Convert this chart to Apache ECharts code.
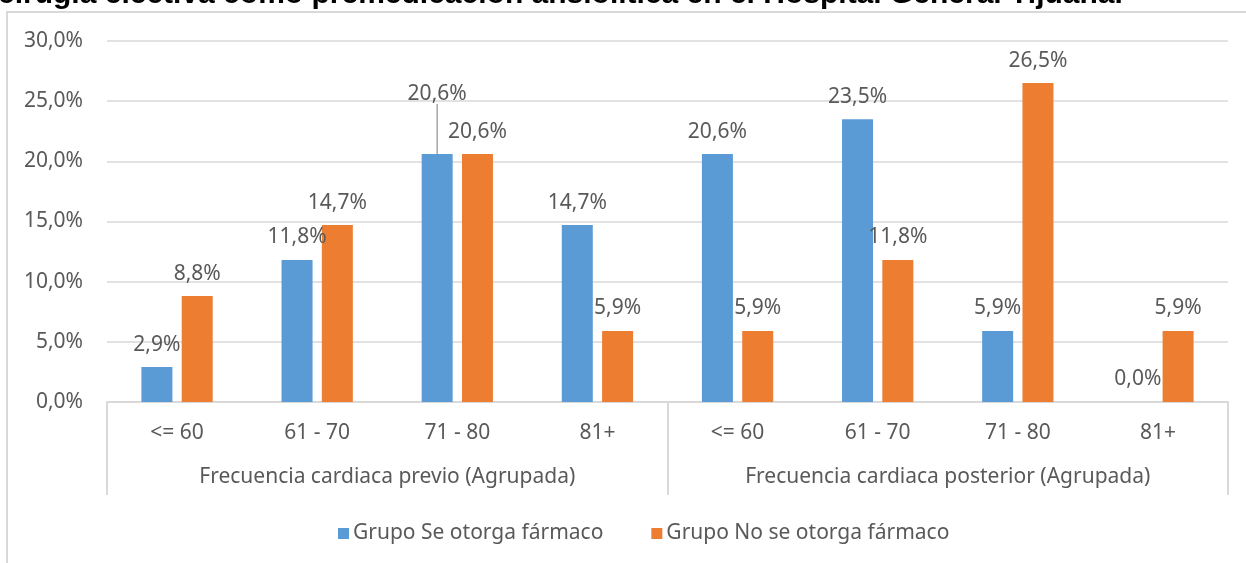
<!DOCTYPE html>
<html>
<head>
<meta charset="utf-8">
<script src="https://cdn.jsdelivr.net/npm/echarts@6/dist/echarts.min.js"></script>
<style>
  html, body { margin: 0; padding: 0; background: #fff; }
  #chart { width: 1246px; height: 563px; }
</style>
</head>
<body>
<div id="chart"></div>
<script>
  // datos
  const categories = ['<= 60', '61 - 70', '71 - 80', '81+', '<= 60', '61 - 70', '71 - 80', '81+'];
  const groups = ['Frecuencia cardiaca previo (Agrupada)', 'Frecuencia cardiaca posterior (Agrupada)'];
  const seOtorga = [2.9, 11.8, 20.6, 14.7, 20.6, 23.5, 5.9, 0.0];
  const noSeOtorga = [8.8, 14.7, 20.6, 5.9, 5.9, 11.8, 26.5, 5.9];
  const seriesNames = ['Grupo Se otorga fármaco', 'Grupo No se otorga fármaco'];
  const yTicks = [0, 5, 10, 15, 20, 25, 30];

  const TEXT = '#595959';
  const GRID = '#D9D9D9';
  const FONT = 'Noto Sans';
  const FS = 21;

  const pct = (v) => v.toFixed(1).replace('.', ',') + '%';

  const chart = echarts.init(document.getElementById('chart'));

  const barLabel = {
    show: true,
    position: 'top',
    distance: 12,
    color: TEXT,
    fontFamily: FONT,
    fontSize: FS,
    formatter: (p) => pct(p.value),
  };

  // solo la etiqueta 20,6% de 71 - 80 (previo) lleva línea guía
  const seData = seOtorga.map((v, i) =>
    i === 2 ? { value: v, labelLine: { show: true, lineStyle: { color: '#A6A6A6', width: 1.5 } } } : v
  );

  const option = {
    animation: false,
    title: {
      text: 'cirugía electiva como premedicación ansiolítica en el Hospital General Tijuana.',
      left: -2,
      top: -20,
      padding: 0,
      textStyle: { color: '#000', fontFamily: 'Liberation Sans', fontWeight: 'bold', fontSize: 30 },
    },
    graphic: [
      {
        type: 'rect',
        shape: { x: 7, y: 12, width: 1300, height: 600 },
        style: { fill: 'none', stroke: GRID, lineWidth: 2 },
        silent: true,
      },
    ],
    legend: {
      data: seriesNames,
      top: 518,
      left: 333,
      icon: 'rect',
      itemWidth: 11,
      itemHeight: 11,
      itemGap: 48,
      textStyle: { color: TEXT, fontFamily: FONT, fontSize: FS, padding: [0, 0, 0, -1] },
    },
    grid: { left: 107, right: 18, top: 41, bottom: 161 },
    xAxis: [
      {
        type: 'category',
        data: categories,
        axisLine: { lineStyle: { color: GRID, width: 1.5 } },
        axisTick: { show: false },
        axisLabel: { color: TEXT, fontFamily: FONT, fontSize: FS, margin: 21, interval: 0 },
      },
      {
        type: 'category',
        data: groups,
        position: 'bottom',
        axisLine: { lineStyle: { color: GRID, width: 1.5 } },
        axisTick: { show: true, length: 93, lineStyle: { color: GRID, width: 2 } },
        axisLabel: { color: TEXT, fontFamily: FONT, fontSize: FS, margin: 65, interval: 0 },
      },
    ],
    yAxis: {
      type: 'value',
      min: yTicks[0],
      max: yTicks[yTicks.length - 1],
      interval: 5,
      axisLine: { show: false },
      axisTick: { show: false },
      axisLabel: { color: TEXT, fontFamily: FONT, fontSize: FS, margin: 24, formatter: (v) => pct(v) },
      splitLine: { lineStyle: { color: GRID, width: 1.5 } },
    },
    series: [
      {
        name: seriesNames[0],
        type: 'bar',
        data: seData,
        barWidth: 31,
        barGap: '30%',
        itemStyle: { color: '#5B9BD5' },
        label: barLabel,
        labelLine: { show: false },
        labelLayout: (p) => (p.dataIndex === 2 ? { dy: -38 } : {}),
      },
      {
        name: seriesNames[1],
        type: 'bar',
        data: noSeOtorga,
        barWidth: 31,
        barGap: '30%',
        itemStyle: { color: '#ED7D31' },
        label: barLabel,
      },
    ],
  };

  chart.setOption(option);
</script>
</body>
</html>
